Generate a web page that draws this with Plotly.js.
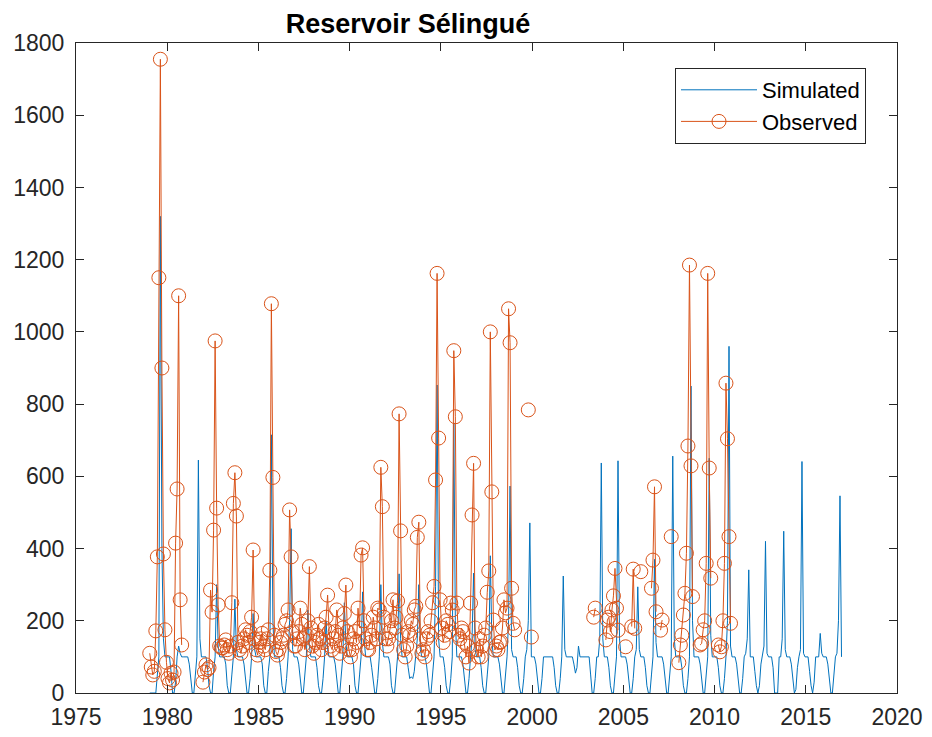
<!DOCTYPE html>
<html>
<head>
<meta charset="utf-8">
<script src="https://cdn.plot.ly/plotly-3.0.1.min.js"></script>
<style>html,body{margin:0;padding:0;background:#fff;}#chart{width:932px;height:737px;}</style>
</head>
<body>
<div id="chart"></div>
<script>
// Time axis: monthly data, first year of each series
const simStartYear = 1979;
const obsStartYear = 1979;
const xTicks = [1975, 1980, 1985, 1990, 1995, 2000, 2005, 2010, 2015, 2020];
const yTicks = [0, 200, 400, 600, 800, 1000, 1200, 1400, 1600, 1800];

// Simulated (monthly, Jan..Dec per row)
const sim1979_1988 = [
  0,0,0,0,0,50,100,1320,400,150,100,100,
  100,100,60,0,0,30,100,130,110,100,100,100,
  100,100,80,30,0,0,50,100,645,150,100,100,
  100,100,70,20,0,0,60,100,300,130,100,100,
  100,100,80,20,0,0,50,100,260,120,100,100,
  100,100,80,30,0,0,40,100,220,120,100,100,
  100,100,80,20,0,0,60,100,715,200,100,100,
  100,100,70,20,0,0,40,100,200,455,120,100,
  100,100,80,30,0,0,50,100,230,130,100,100,
  100,100,70,20,0,0,40,100,200,120,100,100
];
const sim1989_1998 = [
  100,100,80,30,0,0,60,100,250,140,100,100,
  100,100,80,20,0,0,50,100,280,150,100,100,
  100,100,70,30,0,0,40,100,300,140,100,100,
  100,100,80,20,0,0,50,100,330,150,100,100,
  100,100,70,40,45,40,60,100,150,300,120,100,
  100,100,80,30,0,0,50,100,294,853,150,100,
  100,100,70,20,0,0,40,100,748,200,100,100,
  100,100,80,30,0,0,40,100,150,332,120,100,
  100,100,70,20,0,0,50,100,380,150,100,100,
  100,100,80,30,0,0,40,100,200,573,120,100
];
const sim1999_2008 = [
  100,100,70,20,0,0,40,100,120,200,471,100,
  100,100,80,30,0,0,40,100,100,100,100,100,
  100,100,70,20,0,0,40,100,324,120,100,100,
  100,100,100,80,55,70,130,100,100,100,100,100,
  100,100,50,0,0,40,100,100,150,637,150,100,
  100,100,70,20,0,0,50,100,643,150,100,100,
  100,100,80,30,0,0,40,100,120,294,120,100,
  100,100,70,20,0,0,50,100,370,140,100,100,
  100,100,80,30,0,0,40,100,656,150,100,100,
  100,100,70,20,0,0,40,100,850,200,100,100
];
const sim2009_2016 = [
  100,100,80,30,0,0,50,100,650,160,100,100,
  100,100,70,20,0,0,40,100,200,960,130,100,
  100,100,80,30,0,0,40,100,110,150,341,100,
  100,100,60,20,0,20,80,100,130,420,110,100,
  100,100,70,0,0,0,100,100,150,448,120,100,
  100,100,80,30,0,10,70,100,120,641,110,100,
  100,100,60,20,0,30,100,100,100,165,110,100,
  100,100,80,30,0,0,50,100,110,200,546,100
];

// Observed (monthly, Jan..Dec per row, null = missing)
const obs1979_1988 = [
  110,72,50,60,172,377,1150,1755,900,385,175,85,
  40,28,55,36,58,415,565,1100,258,133,null,null,
  null,null,null,null,null,null,null,null,null,null,null,30,
  58,78,65,70,285,224,451,975,512,244,130,125,
  125,133,147,120,110,130,250,525,610,490,140,120,
  110,130,150,175,160,140,170,210,396,150,120,105,
  140,150,165,130,120,150,175,340,1078,597,160,115,
  105,120,140,150,160,190,200,230,507,377,170,130,
  130,150,170,235,190,150,120,160,200,350,180,130,
  110,140,160,190,150,120,140,180,210,271,170,130
];
const obs1989_1998 = [
  120,150,170,230,160,110,130,180,220,299,170,120,
  100,120,150,170,140,235,180,382,402,200,150,120,
  120,140,160,210,180,150,235,230,625,516,210,150,
  130,150,170,200,258,180,210,255,773,449,160,120,
  100,130,170,160,200,190,230,240,431,473,150,110,
  120,100,150,170,160,200,250,295,590,1162,706,258,
  180,140,160,200,190,170,249,230,948,765,249,160,
  150,180,170,140,100,130,83,249,493,636,180,120,
  100,150,100,130,160,180,279,338,1000,557,202,119,
  130,120,140,142,180,258,222,235,1064,970,290,193
];
const obs1999_2010 = [
  175,null,null,null,null,null,null,null,null,784,null,155,
  null,null,null,null,null,null,null,null,null,null,null,null,
  null,null,null,null,null,null,null,null,null,null,null,null,
  null,null,null,null,null,null,null,null,null,null,null,null,
  null,null,null,null,210,235,null,null,null,null,null,null,
  147,202,210,170,230,269,345,235,174,null,null,null,
  null,128,null,null,null,184,343,179,null,null,null,336,
  null,null,null,null,null,null,290,368,571,225,null,null,
  174,202,null,null,null,null,null,433,null,null,null,null,
  84,133,160,216,276,387,684,1185,629,267,null,null,
  null,null,133,137,175,200,359,1162,623,318,null,null,
  null,null,133,114,128,200,359,858,704,433,193,null
];

const simVals = [].concat(sim1979_1988, sim1989_1998, sim1999_2008, sim2009_2016);
const obsVals = [].concat(obs1979_1988, obs1989_1998, obs1999_2010);
const simT = simVals.map((v, i) => simStartYear + (i + 0.5) / 12);
const obsT = obsVals.map((v, i) => obsStartYear + (i + 0.5) / 12);

const blue = '#0072BD';
const orange = '#D95319';
const axisCol = '#262626';
const fontFam = '"Liberation Sans", Arial, Helvetica, sans-serif';

const traces = [
  {x: simT, y: simVals, type: 'scatter', mode: 'lines', name: 'Simulated',
   line: {color: blue, width: 1}},
  {x: obsT, y: obsVals, type: 'scatter', mode: 'lines+markers', name: 'Observed',
   line: {color: orange, width: 1},
   marker: {symbol: 'circle-open', size: 14, color: orange, line: {color: orange, width: 1}}}
];

const axisCommon = {
  showline: true, linecolor: axisCol, linewidth: 1, mirror: 'ticks',
  ticks: 'inside', ticklen: 8, tickwidth: 1, tickcolor: axisCol,
  showgrid: false, zeroline: false,
  tickfont: {family: fontFam, size: 23, color: axisCol}
};

const layout = {
  width: 932, height: 737,
  margin: {l: 76, r: 35, t: 43, b: 44},
  paper_bgcolor: '#fff', plot_bgcolor: '#fff',
  font: {family: fontFam, color: axisCol},
  title: {text: '<b>Reservoir Sélingué</b>', font: {family: fontFam, size: 27, color: '#000'},
          xref: 'container', x: 408 / 932, xanchor: 'center',
          yref: 'container', y: 1 - 24 / 737, yanchor: 'middle'},
  xaxis: Object.assign({}, axisCommon, {range: [1975, 2020], tickvals: xTicks, ticktext: xTicks.map(String), ticklabelstandoff: 3}),
  yaxis: Object.assign({}, axisCommon, {range: [0, 1800], tickvals: yTicks, ticktext: yTicks.map(String), ticklabelstandoff: 6}),
  showlegend: true,
  legend: {x: (675 - 76) / 821, y: (693 - 68) / 650, xanchor: 'left', yanchor: 'top',
           bgcolor: '#fff', bordercolor: axisCol, borderwidth: 1,
           font: {family: fontFam, size: 22, color: '#000'}, itemwidth: 76,
           tracegroupgap: 0}
};

Plotly.newPlot('chart', traces, layout, {displayModeBar: false, staticPlot: true});
</script>
</body>
</html>
